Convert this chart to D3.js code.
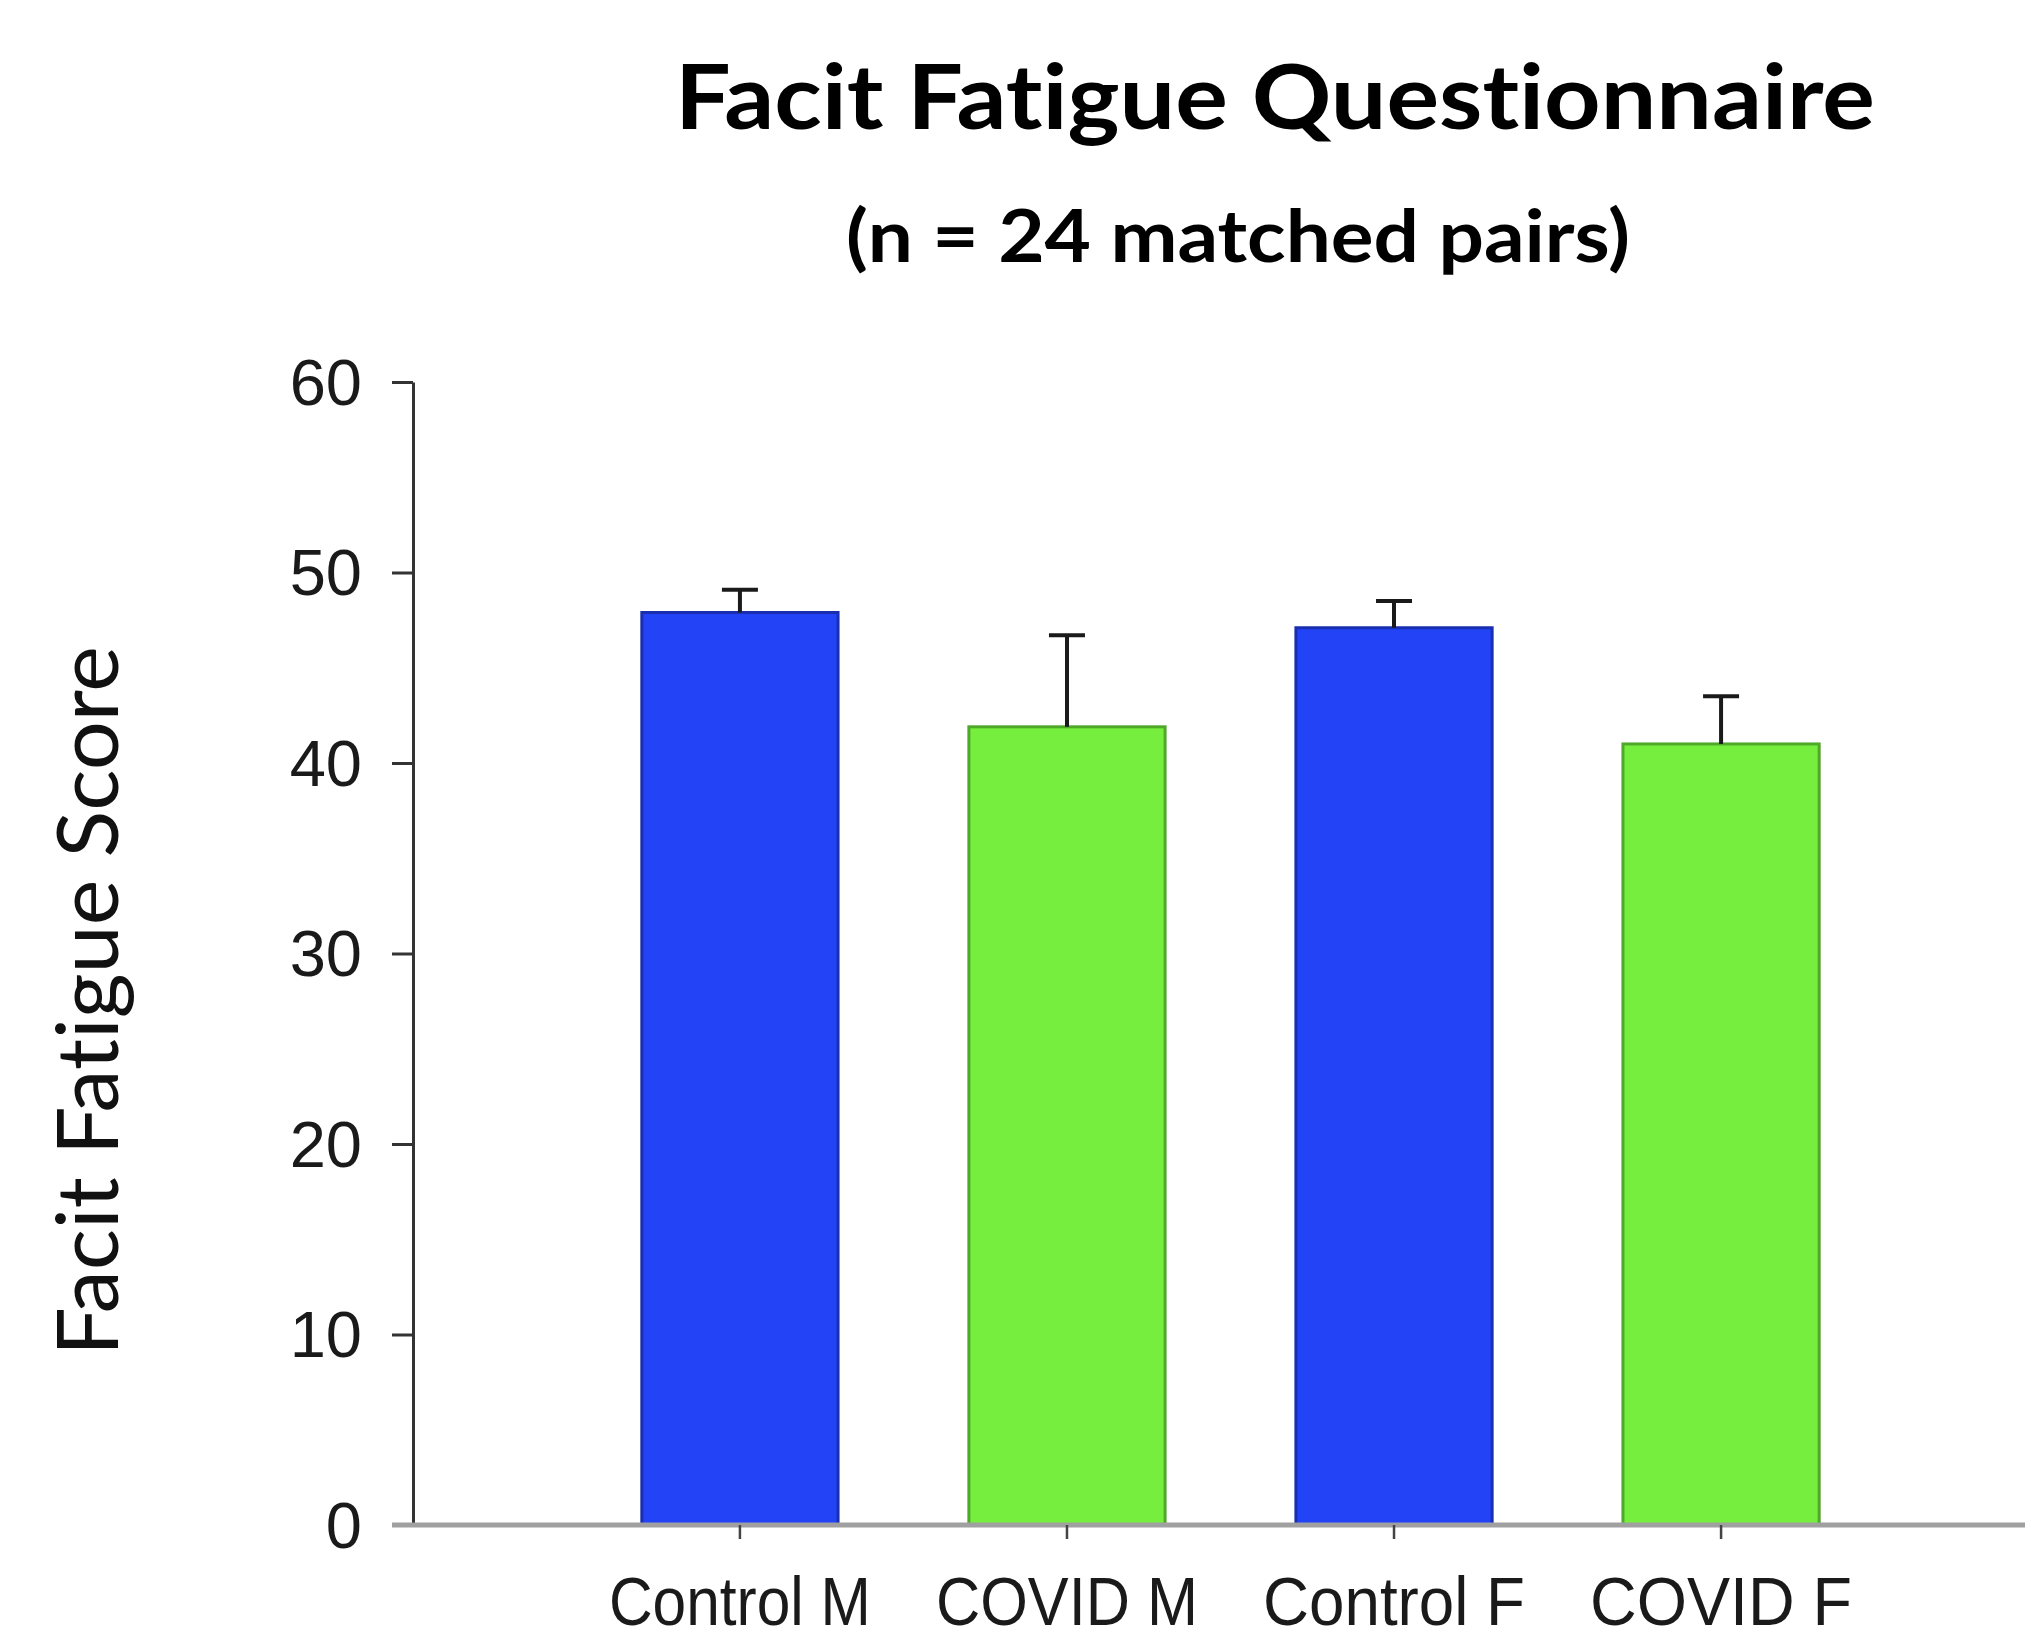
<!DOCTYPE html>
<html><head><meta charset="utf-8">
<script src="https://cdn.jsdelivr.net/npm/d3@7"></script>
<style>html,body{margin:0;padding:0;background:#fff;} text{font-variant-ligatures:none;font-feature-settings:"liga" 0;}</style>
</head><body>
<svg id="chart" width="2025" height="1639"></svg>
<script>
const categories = ["Control M", "COVID M", "Control F", "COVID F"];
const means = [47.9, 41.9, 47.1, 41.0];
const errUpper = [49.1, 46.7, 48.5, 43.5];
const groups = ["Control", "COVID", "Control", "COVID"];
const yTicks = [0, 10, 20, 30, 40, 50, 60];

const fill = {Control: "#2343f6", COVID: "#75ee3d"};
const stroke = {Control: "#1a2fb0", COVID: "#4fa82a"};

const svg = d3.select("#chart");
const y = d3.scaleLinear().domain([0, 60]).range([1525, 382]);
const x = d3.scaleBand().domain(categories).range([511, 1950]).padding(0.4);

// title
svg.append("text").attr("x", 1275).attr("y", 129).attr("text-anchor", "middle")
  .attr("font-family", "Lato, 'Open Sans', sans-serif").attr("font-weight", "bold")
  .attr("font-size", 90).attr("textLength", 1200).attr("lengthAdjust", "spacingAndGlyphs")
  .text("Facit Fatigue Questionnaire");
svg.append("text").attr("x", 1238).attr("y", 262).attr("text-anchor", "middle")
  .attr("font-family", "Lato, 'Open Sans', sans-serif").attr("font-weight", "bold")
  .attr("font-size", 72).attr("textLength", 784).attr("lengthAdjust", "spacingAndGlyphs")
  .text("(n = 24 matched pairs)");

// y label
svg.append("text").attr("transform", "translate(118,1001) rotate(-90)")
  .attr("text-anchor", "middle").attr("font-family", "Lato, 'Open Sans', sans-serif")
  .attr("font-size", 86).attr("textLength", 710).attr("lengthAdjust", "spacingAndGlyphs")
  .attr("fill", "#111").text("Facit Fatigue Score");

// bars
svg.selectAll("rect.bar").data(categories).enter().append("rect").attr("class", "bar")
  .attr("x", d => x(d)).attr("width", x.bandwidth())
  .attr("y", (d, i) => y(means[i])).attr("height", (d, i) => y(0) - y(means[i]))
  .attr("fill", (d, i) => fill[groups[i]]).attr("stroke", (d, i) => stroke[groups[i]])
  .attr("stroke-width", 3);

// error bars
const eb = svg.append("g").attr("stroke", "#1a1a1a").attr("stroke-width", 4);
categories.forEach((c, i) => {
  const cx = x(c) + x.bandwidth() / 2;
  eb.append("line").attr("x1", cx).attr("x2", cx).attr("y1", y(means[i])).attr("y2", y(errUpper[i]));
  eb.append("line").attr("x1", cx - 18).attr("x2", cx + 18).attr("y1", y(errUpper[i])).attr("y2", y(errUpper[i]));
});

// y axis
const yAxis = svg.append("g").attr("transform", "translate(413,0)")
  .call(d3.axisLeft(y).tickValues(yTicks).tickSize(21).tickSizeOuter(0).tickPadding(30).tickFormat(d3.format("d")));
yAxis.select(".domain").attr("stroke", "#333").attr("stroke-width", 3);
yAxis.selectAll(".tick line").attr("stroke", "#333").attr("stroke-width", 3);
yAxis.selectAll(".tick text").attr("font-family", "'Liberation Sans', Arial, sans-serif")
  .attr("font-size", 65).attr("fill", "#1a1a1a").attr("dy", "0.34em");

// x axis
const xAxis = svg.append("g").attr("transform", "translate(0,1525)")
  .call(d3.axisBottom(x).tickSize(14).tickSizeOuter(0).tickPadding(38));
xAxis.select(".domain").remove();
xAxis.insert("line", ":first-child").attr("x1", 392).attr("x2", 2025).attr("y1", 0).attr("y2", 0)
  .attr("stroke", "#a0a0a0").attr("stroke-width", 5);
xAxis.selectAll(".tick line").attr("stroke", "#444").attr("stroke-width", 2.5);
xAxis.selectAll(".tick text").attr("font-family", "'Liberation Sans', Arial, sans-serif")
  .attr("font-size", 68).attr("fill", "#1a1a1a").attr("textLength", 262)
  .attr("lengthAdjust", "spacingAndGlyphs");
</script>
</body></html>
